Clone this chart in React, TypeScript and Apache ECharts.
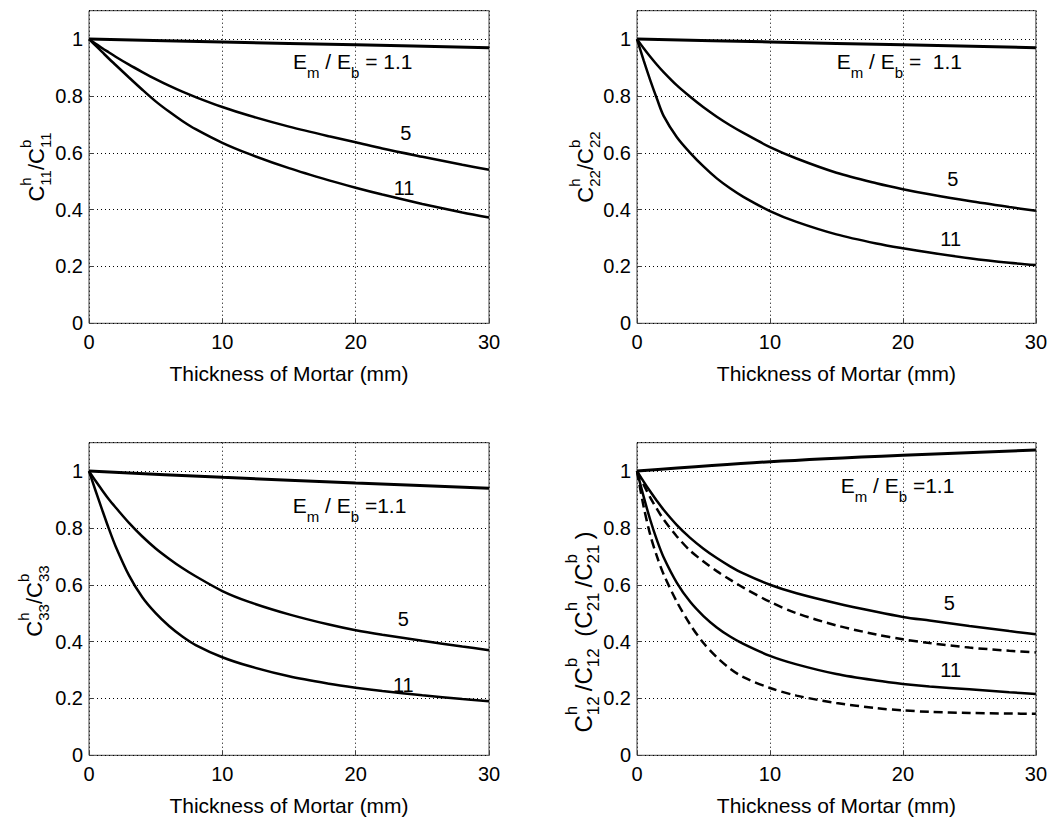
import React, { useEffect, useRef } from "react";
import * as echarts from "echarts";

// ---------- data ----------
const X_PTS = [0, 0.5, 1, 1.5, 2, 3, 4, 5, 6, 7, 8, 10, 12, 15, 18, 20, 22, 25, 28, 30];
const X_LINE = [0, 10, 20, 30];
const X_TICKS = [0, 10, 20, 30];
const Y_TICKS = [0, 0.2, 0.4, 0.6, 0.8, 1];

// panel (a) c11
const C11_R1_1 = [1, 0.99, 0.98, 0.97];
const C11_R5 = [1, 0.984, 0.968, 0.953, 0.938, 0.91, 0.884, 0.859, 0.836, 0.815, 0.796, 0.761, 0.731, 0.692, 0.658, 0.637, 0.615, 0.586, 0.558, 0.54];
const C11_R11 = [1, 0.977, 0.954, 0.931, 0.909, 0.865, 0.822, 0.781, 0.745, 0.712, 0.683, 0.635, 0.596, 0.546, 0.503, 0.477, 0.453, 0.42, 0.39, 0.372];

// panel (b) c22
const C22_R1_1 = [1, 0.99, 0.98, 0.97];
const C22_R5 = [1, 0.968, 0.938, 0.91, 0.884, 0.837, 0.797, 0.76, 0.727, 0.697, 0.67, 0.62, 0.58, 0.53, 0.493, 0.472, 0.454, 0.43, 0.409, 0.396];
const C22_R11 = [1, 0.925, 0.855, 0.79, 0.73, 0.655, 0.6, 0.552, 0.51, 0.475, 0.445, 0.395, 0.357, 0.313, 0.281, 0.264, 0.249, 0.229, 0.213, 0.205];

// panel (c) c33
const C33_R1_1 = [1, 0.978, 0.958, 0.94];
const C33_R5 = [1, 0.965, 0.932, 0.9, 0.872, 0.818, 0.77, 0.728, 0.692, 0.659, 0.63, 0.578, 0.54, 0.496, 0.46, 0.44, 0.424, 0.403, 0.383, 0.37];
const C33_R11 = [1, 0.93, 0.862, 0.796, 0.735, 0.633, 0.556, 0.5, 0.455, 0.418, 0.388, 0.345, 0.314, 0.278, 0.252, 0.238, 0.226, 0.211, 0.198, 0.19];

// panel (d) c12 (solid) and c21 (dashed)
const C12_R1_1 = [1, 1.033, 1.056, 1.074];
const C12_R5 = [1, 0.963, 0.928, 0.895, 0.864, 0.81, 0.765, 0.727, 0.694, 0.665, 0.64, 0.6, 0.57, 0.535, 0.505, 0.487, 0.474, 0.455, 0.437, 0.426];
const C21_R5 = [1, 0.952, 0.907, 0.867, 0.83, 0.77, 0.72, 0.682, 0.648, 0.618, 0.59, 0.54, 0.5, 0.457, 0.425, 0.408, 0.395, 0.379, 0.368, 0.362];
const C12_R11 = [1, 0.91, 0.828, 0.757, 0.697, 0.607, 0.54, 0.49, 0.45, 0.418, 0.392, 0.35, 0.32, 0.286, 0.263, 0.251, 0.242, 0.232, 0.222, 0.216];
const C21_R11 = [1, 0.875, 0.775, 0.7, 0.637, 0.54, 0.46, 0.395, 0.345, 0.305, 0.275, 0.237, 0.21, 0.184, 0.166, 0.158, 0.153, 0.149, 0.147, 0.146];

const X_NAME = "Thickness of Mortar (mm)";
const RATIO_LABELS = ["1.1", "5", "11"];

// ---------- styling / layout ----------
const FONT = "Liberation Sans";
const GRID_LEFT = [89, 637];
const GRID_TOP = [10.7, 442.7];
const GRID_W = 400;
const GRID_H = 312.6;

let measureCtx: CanvasRenderingContext2D | null = null;
function tw(text: string, size: number): number {
  if (!measureCtx) measureCtx = document.createElement("canvas").getContext("2d");
  if (!measureCtx) return text.length * size * 0.55;
  measureCtx.font = `${size}px "${FONT}"`;
  return measureCtx.measureText(text).width;
}

type Seg = { t?: string; sup?: string; sub?: string };

function scriptLabel(
  segs: Seg[],
  o: {
    x: number;
    y: number;
    rotate?: boolean;
    base: number;
    small: number;
    supDy: number;
    subDy: number;
    align: "left" | "center";
    pad?: number;
  }
) {
  const items: any[] = [];
  let cursor = 0;
  for (const s of segs) {
    if (s.t) {
      const lead = s.t.length - s.t.trimStart().length;
      const trimmed = s.t.trim();
      const leadW = lead ? tw(" ".repeat(lead), o.base) : 0;
      if (trimmed) {
        items.push({
          type: "text",
          x: cursor + leadW,
          y: 0,
          style: { text: trimmed, fontSize: o.base, fontFamily: FONT, fill: "#000", align: "left", verticalAlign: "middle" },
        });
      }
      cursor += tw(s.t, o.base);
    }
    let w = 0;
    if (s.sup) {
      items.push({
        type: "text",
        x: cursor,
        y: o.supDy,
        style: { text: s.sup, fontSize: o.small, fontFamily: FONT, fill: "#000", align: "left", verticalAlign: "middle" },
      });
      w = Math.max(w, tw(s.sup, o.small));
    }
    if (s.sub) {
      items.push({
        type: "text",
        x: cursor,
        y: o.subDy,
        style: { text: s.sub, fontSize: o.small, fontFamily: FONT, fill: "#000", align: "left", verticalAlign: "middle" },
      });
      w = Math.max(w, tw(s.sub, o.small));
    }
    cursor += w;
    if (w > 0 && o.pad) cursor += o.pad;
  }
  const off = o.align === "center" ? -cursor / 2 : 0;
  items.forEach((it) => (it.x += off));
  return { type: "group", x: o.x, y: o.y, rotation: o.rotate ? Math.PI / 2 : 0, silent: true, children: items };
}

function plainText(text: string, x: number, y: number, size: number) {
  return {
    type: "text",
    x,
    y,
    silent: true,
    style: { text, fontSize: size, fontFamily: FONT, fill: "#000", align: "center", verticalAlign: "middle" },
  };
}

const zip = (xs: number[], ys: number[]) => xs.map((x, i) => [x, ys[i]]);

export default function App() {
  const ref = useRef<HTMLDivElement>(null);
  useEffect(() => {
    if (!ref.current) return;
    const chart = echarts.init(ref.current, undefined, { renderer: "svg" });

    const panels = [
      { col: 0, row: 0, curves: [[X_LINE, C11_R1_1, "solid", 3], [X_PTS, C11_R5, "solid", 2.5], [X_PTS, C11_R11, "solid", 2.5]] },
      { col: 1, row: 0, curves: [[X_LINE, C22_R1_1, "solid", 3], [X_PTS, C22_R5, "solid", 2.5], [X_PTS, C22_R11, "solid", 2.5]] },
      { col: 0, row: 1, curves: [[X_LINE, C33_R1_1, "solid", 3], [X_PTS, C33_R5, "solid", 2.5], [X_PTS, C33_R11, "solid", 2.5]] },
      {
        col: 1,
        row: 1,
        curves: [
          [X_LINE, C12_R1_1, "solid", 3],
          [X_PTS, C12_R5, "solid", 2.5],
          [X_PTS, C21_R5, [9, 5], 2.5],
          [X_PTS, C12_R11, "solid", 2.5],
          [X_PTS, C21_R11, [9, 5], 2.5],
        ],
      },
    ];

    const grid: any[] = [];
    const xAxis: any[] = [];
    const yAxis: any[] = [];
    const series: any[] = [];

    panels.forEach((p, i) => {
      grid.push({
        left: GRID_LEFT[p.col],
        top: GRID_TOP[p.row],
        width: GRID_W,
        height: GRID_H,
        show: true,
        borderColor: "#404040",
        borderWidth: 1,
        backgroundColor: "transparent",
      });
      xAxis.push({
        gridIndex: i,
        type: "value",
        min: X_TICKS[0],
        max: X_TICKS[X_TICKS.length - 1],
        interval: X_TICKS[1] - X_TICKS[0],
        name: X_NAME,
        nameLocation: "middle",
        nameGap: 40,
        nameTextStyle: { fontSize: 21, color: "#000", fontFamily: FONT },
        axisLine: { show: false },
        axisTick: { show: true, inside: true, length: 5, lineStyle: { color: "#404040" } },
        axisLabel: { fontSize: 20, color: "#000", margin: 9, fontFamily: FONT },
        splitLine: { show: true, lineStyle: { color: "#000", width: 1, type: [1, 3] } },
      });
      yAxis.push({
        gridIndex: i,
        type: "value",
        min: Y_TICKS[0],
        max: 1.1,
        interval: Y_TICKS[1] - Y_TICKS[0],
        axisLine: { show: false },
        axisTick: { show: true, inside: true, length: 5, lineStyle: { color: "#404040" } },
        axisLabel: {
          fontSize: 20,
          color: "#000",
          margin: 6,
          fontFamily: FONT,
          showMaxLabel: false,
          formatter: (v: number) => String(+v.toFixed(1)),
        },
        splitLine: { show: true, lineStyle: { color: "#000", width: 1, type: [1, 3] } },
      });
      p.curves.forEach((c: any) => {
        series.push({
          type: "line",
          xAxisIndex: i,
          yAxisIndex: i,
          data: zip(c[0], c[1]),
          showSymbol: false,
          symbol: "none",
          smooth: 0.3,
          silent: true,
          lineStyle: { color: "#000", width: c[3], type: c[2] },
        });
      });
    });

    const yl = (segs: Seg[], x: number, y: number) =>
      scriptLabel(segs, { x, y, rotate: true, base: 22, small: 15, supDy: -11, subDy: 9, align: "center" });
    const ann = (segs: Seg[], x: number, y: number) =>
      scriptLabel(segs, { x, y, base: 21, small: 15, supDy: -10, subDy: 11, align: "left" });

    const graphic: any[] = [
      yl([{ t: "C", sup: "h", sub: "11" }, { t: "/C", sup: "b", sub: "11" }], 36, 167),
      yl([{ t: "C", sup: "h", sub: "22" }, { t: "/C", sup: "b", sub: "22" }], 585, 167),
      yl([{ t: "C", sup: "h", sub: "33" }, { t: "/C", sup: "b", sub: "33" }], 34, 601),
      scriptLabel(
        [
          { t: "C", sup: "h", sub: "12" },
          { t: "/C", sup: "b", sub: "12" },
          { t: " (C", sup: "h", sub: "21" },
          { t: "/C", sup: "b", sub: "21" },
          { t: ")" },
        ],
        { x: 583, y: 632, rotate: true, base: 24, small: 17, supDy: -12, subDy: 10, align: "center", pad: 5 }
      ),
      ann([{ t: "E", sub: "m" }, { t: " / E", sub: "b" }, { t: " = " + RATIO_LABELS[0] }], 293, 61.7),
      ann([{ t: "E", sub: "m" }, { t: " / E", sub: "b" }, { t: " =  " + RATIO_LABELS[0] }], 836.7, 61.7),
      ann([{ t: "E", sub: "m" }, { t: " / E", sub: "b" }, { t: " =" + RATIO_LABELS[0] }], 292.7, 505.5),
      ann([{ t: "E", sub: "m" }, { t: " / E", sub: "b" }, { t: " =" + RATIO_LABELS[0] }], 840.7, 485),
      plainText(RATIO_LABELS[1], 405.7, 133.3, 20),
      plainText(RATIO_LABELS[2], 404, 188.3, 20),
      plainText(RATIO_LABELS[1], 952.7, 179, 20),
      plainText(RATIO_LABELS[2], 950.7, 239.3, 20),
      plainText(RATIO_LABELS[1], 403.3, 619.3, 20),
      plainText(RATIO_LABELS[2], 403.3, 685, 20),
      plainText(RATIO_LABELS[1], 949.3, 603.3, 20),
      plainText(RATIO_LABELS[2], 950.7, 670, 20),
    ];

    chart.setOption({
      animation: false,
      backgroundColor: "#fff",
      textStyle: { fontFamily: FONT },
      grid,
      xAxis,
      yAxis,
      series,
      graphic,
    });
    return () => chart.dispose();
  }, []);

  return <div ref={ref} style={{ position: "fixed", left: 0, top: 0, width: 1050, height: 823, background: "#fff" }} />;
}
